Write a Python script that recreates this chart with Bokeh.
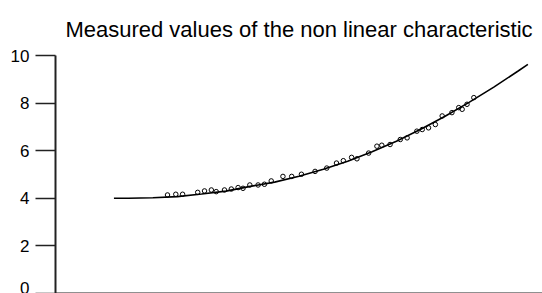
from bokeh.plotting import figure
from bokeh.models import FixedTicker, Range1d, Title
from bokeh.embed import file_html
from bokeh.resources import INLINE

# Fitted characteristic curve
curve_x = [1.2, 1.5, 2.0, 2.5, 3.0, 3.5, 4.0, 4.5, 5.0, 5.5, 6.0, 6.5, 7.0, 7.5, 8.0, 8.5, 9.0, 9.5, 9.7]
curve_y = [4.0, 4.0, 4.02, 4.07, 4.18, 4.3, 4.5, 4.68, 4.93, 5.22, 5.56, 5.96, 6.4, 6.9, 7.45, 8.04, 8.67, 9.35, 9.63]

# Measured values (open circles)
meas_x = [2.30, 2.47, 2.61, 2.92, 3.06, 3.20, 3.30, 3.47, 3.61, 3.75, 3.85, 3.99, 4.16, 4.29,
          4.43, 4.67, 4.85, 5.05, 5.33, 5.57, 5.77, 5.91, 6.08, 6.19, 6.43, 6.60, 6.70, 6.87,
          7.08, 7.22, 7.42, 7.53, 7.66, 7.80, 7.94, 8.14, 8.28, 8.35, 8.45, 8.59]
meas_y = [4.14, 4.17, 4.17, 4.25, 4.31, 4.35, 4.28, 4.35, 4.39, 4.45, 4.42, 4.56, 4.56, 4.59,
          4.73, 4.92, 4.92, 5.01, 5.13, 5.27, 5.48, 5.58, 5.72, 5.66, 5.90, 6.19, 6.23, 6.26,
          6.47, 6.54, 6.82, 6.89, 6.96, 7.10, 7.46, 7.60, 7.81, 7.74, 7.95, 8.23]

y_ticks = [0, 2, 4, 6, 8, 10]

p = figure(width=542, height=293, output_backend="svg", toolbar_location=None,
           x_range=Range1d(0, 10), y_range=Range1d(0, 10))
p.title = Title(text="Measured values of the non linear characteristic", align="center",
                text_font="Liberation Sans", text_font_size="22px", text_font_style="normal",
                text_color="black", standoff=27)
p.min_border_left = 55
p.min_border_right = 0
p.min_border_top = 55
p.min_border_bottom = 0
p.outline_line_color = None
p.grid.visible = False
p.background_fill_color = "white"
p.border_fill_color = "white"

p.line(curve_x, curve_y, line_color="black", line_width=1.6)
p.scatter(meas_x, meas_y, marker="circle", size=4.5, fill_color="white", fill_alpha=0,
          line_color="black", line_width=1)

ya = p.yaxis[0]
ya.ticker = FixedTicker(ticks=y_ticks)
ya.major_tick_out = 20
ya.major_tick_in = 0
ya.minor_tick_out = 0
ya.minor_tick_in = 0
ya.axis_line_width = 2
ya.axis_line_color = "#222222"
ya.major_tick_line_width = 1.5
ya.major_tick_line_color = "#222222"
ya.major_label_text_font = "Liberation Sans"
ya.major_label_text_font_size = "17px"
ya.major_label_text_color = "black"
ya.major_label_standoff = 6

xa = p.xaxis[0]
xa.ticker = FixedTicker(ticks=[])
xa.major_tick_out = 0
xa.major_tick_in = 0
xa.minor_tick_out = 0
xa.minor_tick_in = 0
xa.axis_line_width = 2
xa.axis_line_color = "#222222"
xa.major_label_text_font_size = "0px"

open("out.html", "w").write(file_html(p, INLINE))
